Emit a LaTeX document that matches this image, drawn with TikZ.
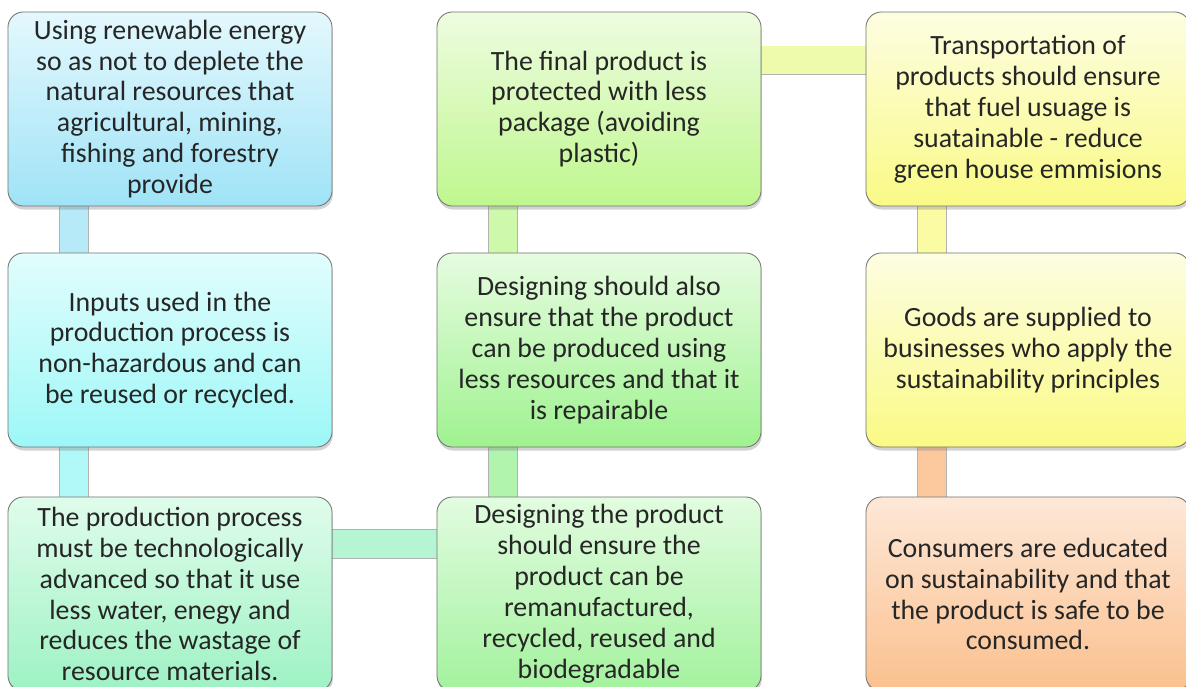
\documentclass[tikz,border=0pt]{standalone}
\usepackage{fontspec}
\setmainfont{Carlito}
\usetikzlibrary{shadows,backgrounds}

\definecolor{skyT}{HTML}{E4F8FD}\definecolor{skyB}{HTML}{9FE3F7}
\definecolor{cyaT}{HTML}{E2FDFD}\definecolor{cyaB}{HTML}{9DF7F7}
\definecolor{mntT}{HTML}{E0FCEB}\definecolor{mntB}{HTML}{9EF2C4}
\definecolor{grnT}{HTML}{E2FCE0}\definecolor{grnB}{HTML}{A3F29E}
\definecolor{lgrT}{HTML}{E6FCE0}\definecolor{lgrB}{HTML}{9FF290}
\definecolor{ygrT}{HTML}{EEFCE0}\definecolor{ygrB}{HTML}{BFF78E}
\definecolor{ylwT}{HTML}{FDFDE2}\definecolor{ylwB}{HTML}{FAFA86}
\definecolor{pchT}{HTML}{FDE8D8}\definecolor{pchB}{HTML}{FBC08E}

\tikzset{
  box/.style={rounded corners=11pt, draw=black!55, line width=0.6pt,
    minimum width=8.1cm, minimum height=4.85cm, align=center,
    font=\fontsize{19.8}{22}\selectfont, text=black!85,
    drop shadow={shadow xshift=0.6pt, shadow yshift=-2.5pt, opacity=0.35}},
  link/.style={draw=black!30, double=#1, double distance=0.7cm, line width=0.4pt}
}

\begin{document}
\begin{tikzpicture}[x=0.025cm, y=0.025cm]
\useasboundingbox (0,0) rectangle (1186,-686);
% left column
\node[box, top color=skyT, bottom color=skyB] (energy) at (170,-109)
  {Using renewable energy\\so as not to deplete the\\natural resources that\\agricultural, mining,\\fishing and forestry\\provide};
\node[box, top color=cyaT, bottom color=cyaB] (inputs) at (170,-350)
  {Inputs used in the\\production process is\\non-hazardous and can\\be reused or recycled.};
\node[box, top color=mntT, bottom color=mntB] (process) at (170,-594)
  {The production process\\must be technologically\\advanced so that it use\\less water, enegy and\\reduces the wastage of\\resource materials.};
% middle column
\node[box, top color=ygrT, bottom color=ygrB] (package) at (599,-109)
  {The final product is\\protected with less\\package (avoiding\\plastic)};
\node[box, top color=lgrT, bottom color=lgrB] (repair) at (599,-350)
  {Designing should also\\ensure that the product\\can be produced using\\less resources and that it\\is repairable};
\node[box, top color=grnT, bottom color=grnB] (design) at (599,-594)
  {Designing the product\\should ensure the\\product can be\\remanufactured,\\recycled, reused and\\biodegradable};
% right column
\node[box, top color=ylwT, bottom color=ylwB] (transport) at (1028,-109)
  {Transportation of\\products should ensure\\that fuel usuage is\\suatainable - reduce\\green house emmisions};
\node[box, top color=ylwT, bottom color=ylwB] (goods) at (1028,-350)
  {Goods are supplied to\\businesses who apply the\\sustainability principles};
\node[box, top color=pchT, bottom color=pchB] (consumer) at (1028,-594)
  {Consumers are educated\\on sustainability and that\\the product is safe to be\\consumed.};

\begin{scope}[on background layer]
\draw[link=skyB!75] ([xshift=-2.4cm]energy.center) -- ([xshift=-2.4cm]inputs.center);
\draw[link=cyaB!80] ([xshift=-2.4cm]inputs.center) -- ([xshift=-2.4cm]process.center);
\draw[link=mntB!75] ([yshift=1.25cm]process.center) -- ([yshift=1.25cm]design.center);
\draw[link=grnB!85] ([xshift=-2.4cm]design.center) -- ([xshift=-2.4cm]repair.center);
\draw[link=ygrB!75] ([xshift=-2.4cm]repair.center) -- ([xshift=-2.4cm]package.center);
\draw[link=ylwB!70!ygrB!70] ([yshift=1.22cm]package.center) -- ([yshift=1.22cm]transport.center);
\draw[link=ylwB!75] ([xshift=-2.4cm]transport.center) -- ([xshift=-2.4cm]goods.center);
\draw[link=pchB!85] ([xshift=-2.4cm]goods.center) -- ([xshift=-2.4cm]consumer.center);
\end{scope}
\end{tikzpicture}
\end{document}
